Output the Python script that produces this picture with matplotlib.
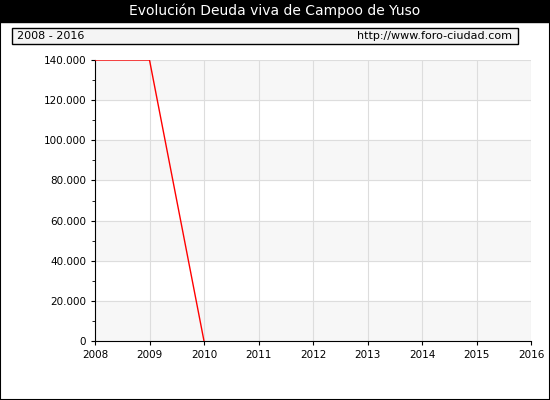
import matplotlib
matplotlib.use("Agg")
import matplotlib.pyplot as plt
from matplotlib.patches import Rectangle

years = [2008, 2009, 2010]
deuda = [140000, 140000, 0]
x_ticks = list(range(2008, 2017))
y_ticks = list(range(0, 140001, 20000))

W, H = 550, 400
fig = plt.figure(figsize=(W / 100, H / 100), dpi=100)
fig.patch.set_facecolor("white")

# outer border and title bar
fig.add_artist(Rectangle((0, 0), 1, 1, transform=fig.transFigure, fill=False,
                         edgecolor="black", lw=1.5))
fig.add_artist(Rectangle((0, 1 - 22 / H), 1, 22 / H, transform=fig.transFigure,
                         facecolor="black", edgecolor="black"))
fig.text(0.5, 1 - 11 / H, "Evolución Deuda viva de Campoo de Yuso", color="white",
         ha="center", va="center", fontsize=10)

# info box
fig.add_artist(Rectangle((12 / W, 1 - 44 / H), 506 / W, 16 / H, transform=fig.transFigure,
                         facecolor="#f4f4f4", edgecolor="black", lw=1))
fig.text(17 / W, 1 - 36 / H, "2008 - 2016", fontsize=8, va="center")
fig.text(512 / W, 1 - 36 / H, "http://www.foro-ciudad.com", fontsize=8, va="center", ha="right")

ax = fig.add_axes([95 / W, 1 - 341 / H, 436 / W, 281 / H])
for i, y0 in enumerate(y_ticks[:-1]):
    if i % 2 == 0:
        ax.axhspan(y0, y0 + 20000, color="#f7f7f7", zorder=0)
ax.plot(years, deuda, color="red", lw=1, zorder=3)
ax.set_xlim(2008, 2016)
ax.set_ylim(0, 140000)
ax.set_xticks(x_ticks)
ax.set_yticks(y_ticks)
ax.set_yticklabels([f"{v:,}".replace(",", ".") for v in y_ticks])
ax.set_yticks(range(10000, 140000, 20000), minor=True)
ax.grid(True, color="#dddddd", lw=0.8, zorder=1)
ax.tick_params(labelsize=7.5, length=3)
ax.tick_params(which="minor", length=2)
for s in ax.spines.values():
    s.set_color("black")
    s.set_linewidth(0.8)
ax.spines["top"].set_visible(False)
ax.spines["right"].set_visible(False)

fig.savefig("out.png", dpi=100)
